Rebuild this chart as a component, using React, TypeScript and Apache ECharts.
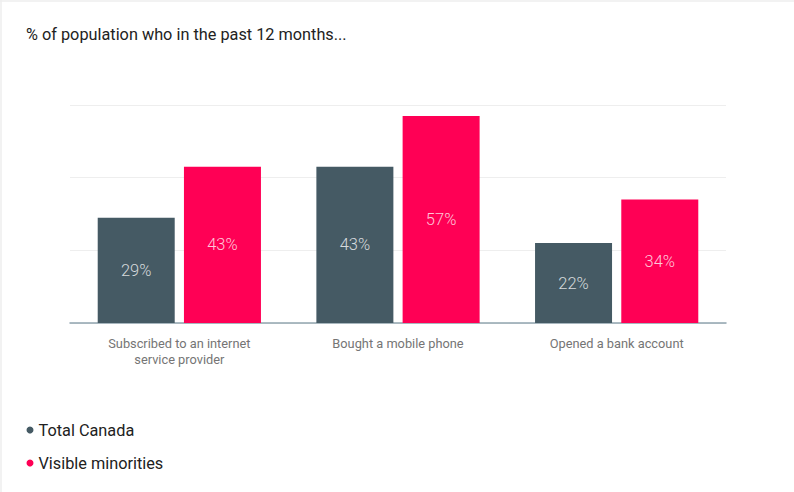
import React, { useEffect, useRef } from "react";
import * as echarts from "echarts";

const categories = [
  "Subscribed to an internet\nservice provider",
  "Bought a mobile phone",
  "Opened a bank account",
];
const totalCanada = [29, 43, 22];
const visibleMinorities = [43, 57, 34];
const seriesNames = ["Total Canada", "Visible minorities"];
const titleText = "% of population who in the past 12 months...";

export default function App() {
  const ref = useRef<HTMLDivElement>(null);
  useEffect(() => {
    if (!ref.current) return;
    const chart = echarts.init(ref.current, undefined, { renderer: "svg" });
    const font = "Roboto, 'Noto Sans', sans-serif";
    const label = {
      show: true,
      position: "inside",
      formatter: "{c}%",
      color: "rgba(255,255,255,0.78)",
      fontSize: 16.5,
      fontWeight: 300,
      fontFamily: font,
    };
    chart.setOption({
      animation: false,
      textStyle: { fontFamily: font },
      title: {
        text: titleText,
        left: 26,
        top: 26,
        padding: 0,
        textStyle: { fontSize: 16.3, fontWeight: "normal", color: "#222222", fontFamily: font },
      },
      legend: {
        orient: "vertical",
        left: 26.5,
        top: 422,
        padding: 0,
        icon: "circle",
        itemWidth: 7,
        itemHeight: 7,
        itemGap: 17,
        textStyle: { fontSize: 16.3, color: "#212121", fontFamily: font },
        data: seriesNames,
      },
      grid: { left: 70, right: 68, top: 105, bottom: 169 },
      xAxis: {
        type: "category",
        data: categories,
        axisTick: { show: false },
        axisLine: { lineStyle: { color: "#90a4ae", width: 1.5 } },
        axisLabel: {
          color: "#757575",
          fontSize: 12.8,
          lineHeight: 16,
          margin: 12,
          fontFamily: font,
        },
      },
      yAxis: {
        type: "value",
        min: 0,
        max: 60,
        interval: 20,
        axisLabel: { show: false },
        axisLine: { show: false },
        axisTick: { show: false },
        splitLine: { lineStyle: { color: "#eeeeee" } },
      },
      graphic: [
        { type: "line", shape: { x1: 0, y1: 1, x2: 794, y2: 1 }, style: { stroke: "#eeeeee", lineWidth: 1.5 } },
        { type: "line", shape: { x1: 1, y1: 0, x2: 1, y2: 492 }, style: { stroke: "#eeeeee", lineWidth: 1.5 } },
      ],
      series: [
        {
          name: seriesNames[0],
          type: "bar",
          data: totalCanada,
          barWidth: 77,
          barGap: "12%",
          itemStyle: { color: "#455a64" },
          label,
        },
        {
          name: seriesNames[1],
          type: "bar",
          data: visibleMinorities,
          barWidth: 77,
          itemStyle: { color: "#ff0055" },
          label,
        },
      ],
    });
    return () => chart.dispose();
  }, []);
  return (
    <div
      ref={ref}
      style={{ position: "absolute", left: 0, top: 0, width: 794, height: 492, background: "#ffffff" }}
    />
  );
}
